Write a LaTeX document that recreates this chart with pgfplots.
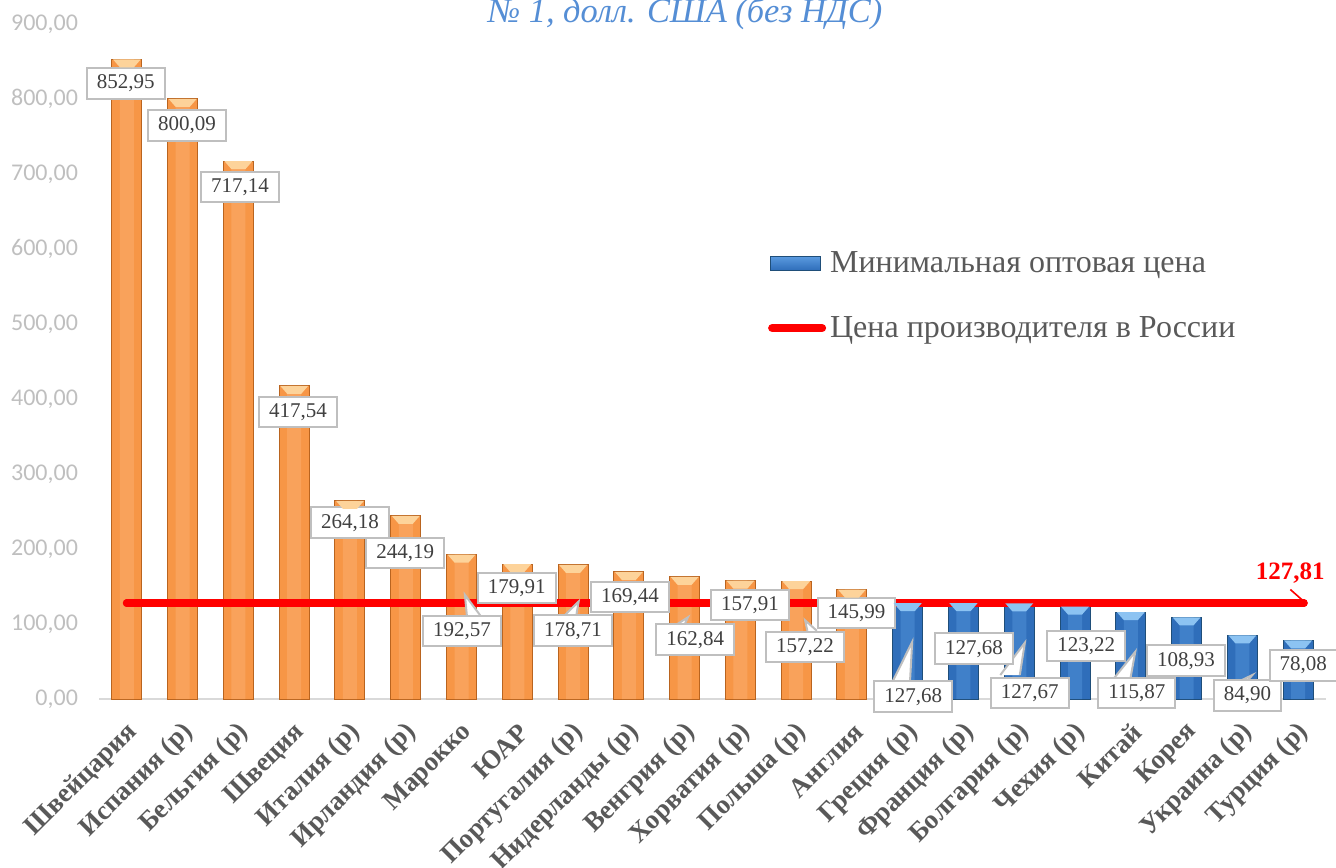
\documentclass[border=0pt]{standalone}
\usepackage{fontspec}
\setmainfont{Liberation Serif}
\newfontfamily\carlito{Carlito}
\usepackage{pgfplots}
\pgfplotsset{compat=1.18}

\definecolor{ttl}{HTML}{558ED5}
\definecolor{txt}{HTML}{595959}
\definecolor{lbltxt}{HTML}{404040}
\definecolor{lblbrd}{HTML}{BFBFBF}
\definecolor{ytk}{HTML}{BFBFBF}
\definecolor{axl}{HTML}{D9D9D9}
\definecolor{orMain}{HTML}{F79646}
\definecolor{orDark}{HTML}{B9641F}
\definecolor{orLight}{HTML}{FCB276}
\definecolor{orTop}{HTML}{FDD39A}
\definecolor{blMain}{HTML}{2F6EBA}
\definecolor{blDark}{HTML}{1F4E79}
\definecolor{blLight}{HTML}{5B9BE0}
\definecolor{blTop}{HTML}{8CC3F2}
\definecolor{redline}{HTML}{FF0000}

\pgfdeclareplotmark{bevel}{%
  \pgfpathmoveto{\pgfpoint{-7pt}{0pt}}%
  \pgfpathlineto{\pgfpoint{7pt}{0pt}}%
  \pgfpathlineto{\pgfpoint{3.5pt}{-4pt}}%
  \pgfpathlineto{\pgfpoint{-3.5pt}{-4pt}}%
  \pgfpathclose
  \pgfusepath{fill}}

\tikzset{lbl/.style={draw=lblbrd, line width=1pt, fill=white, text=lbltxt,
  font=\fontsize{10.5}{12}\selectfont, inner xsep=5pt, minimum height=15pt},
  ptr/.style={fill=white, draw=lblbrd, line width=1pt, line join=miter}}

\begin{document}
\begin{tikzpicture}
\path[use as bounding box] (0,0) rectangle (668pt,433.5pt);
\node[text=ttl, font=\itshape\fontsize{17.2}{20}\selectfont] at (342.5pt,426.5pt) {№ 1, долл. США (без НДС)};
\begin{axis}[
    at={(49.5pt,84pt)}, anchor=south west,
    scale only axis,
    width=613.5pt, height=337.5pt,
    xmin=-0.5, xmax=21.5,
    ymin=0, ymax=900,
    clip=false,
    axis lines*=left,
    x axis line style={draw=axl, line width=1pt},
    y axis line style={draw=none},
    major tick length=0pt,
    xtick={0,...,21},
    xticklabels={Швейцария, {Испания (р)}, {Бельгия (р)}, Швеция, {Италия (р)},
      {Ирландия (р)}, Марокко, ЮАР, {Португалия (р)}, {Нидерланды (р)},
      {Венгрия (р)}, {Хорватия (р)}, {Польша (р)}, Англия, {Греция (р)},
      {Франция (р)}, {Болгария (р)}, {Чехия (р)}, Китай, Корея,
      {Украина (р)}, {Турция (р)}},
    xticklabel style={rotate=45, anchor=east, text=txt,
      font=\bfseries\fontsize{13.5}{13.5}\selectfont, xshift=-4.6pt, yshift=-12.6pt},
    ytick={0,100,...,900},
    yticklabel style={text=ytk, font=\carlito\fontsize{12}{12}\selectfont,
      xshift=-7pt,
      /pgf/number format/fixed, /pgf/number format/fixed zerofill,
      /pgf/number format/precision=2, /pgf/number format/use comma,
      /pgf/number format/1000 sep={}, /pgf/number format/assume math mode=true},
    legend style={at={(rel axis cs:0.545,0.670)}, anchor=north west,
      draw=none, fill=none, text=txt, font=\fontsize{16}{18}\selectfont,
      row sep=16.5pt, inner sep=0pt},
    legend cell align=left,
]
% orange bars (no legend entry)
\addplot[ybar, bar width=15pt, bar shift=0pt, draw=orDark, line width=0.5pt,
    fill=orMain, forget plot]
  coordinates {(0,852.95) (1,800.09) (2,717.14) (3,417.54) (4,264.18) (5,244.19)
    (6,192.57) (7,179.91) (8,178.71) (9,169.44) (10,162.84) (11,157.91)
    (12,157.22) (13,145.99)};
\addplot[ybar, bar width=7pt, bar shift=0pt, draw=none, fill=orLight,
    fill opacity=0.45, forget plot]
  coordinates {(0,852.95) (1,800.09) (2,717.14) (3,417.54) (4,264.18) (5,244.19)
    (6,192.57) (7,179.91) (8,178.71) (9,169.44) (10,162.84) (11,157.91)
    (12,157.22) (13,145.99)};
\addplot[only marks, mark=bevel, mark options={fill=orTop}, forget plot]
  coordinates {(0,852.95) (1,800.09) (2,717.14) (3,417.54) (4,264.18) (5,244.19)
    (6,192.57) (7,179.91) (8,178.71) (9,169.44) (10,162.84) (11,157.91)
    (12,157.22) (13,145.99)};
% blue bars
\addplot[ybar, bar width=15pt, bar shift=0pt, draw=blDark, line width=0.5pt,
    fill=blMain,
    legend image code/.code={\draw[draw=blDark, top color=blLight, bottom color=blMain]
      (0pt,-3.5pt) rectangle (25pt,3.5pt);}]
  coordinates {(14,127.68) (15,127.68) (16,127.67) (17,123.22) (18,115.87)
    (19,108.93) (20,84.90) (21,78.08)};
\addlegendentry{Минимальная оптовая цена}
% producer price line
\addplot[redline, line width=4pt, line cap=round, mark=none,
    legend image code/.code={\draw[redline, line width=4pt, line cap=round]
      (1pt,0pt) -- (26pt,0pt);}]
  coordinates {(0,127.81) (21.1,127.81)};
\addlegendentry{Цена производителя в России}
\addplot[ybar, bar width=7pt, bar shift=0pt, draw=none, fill=blLight,
    fill opacity=0.4, forget plot]
  coordinates {(14,127.68) (15,127.68) (16,127.67) (17,123.22) (18,115.87)
    (19,108.93) (20,84.90) (21,78.08)};
\addplot[only marks, mark=bevel, mark options={fill=blTop}, forget plot]
  coordinates {(14,127.68) (15,127.68) (16,127.67) (17,123.22) (18,115.87)
    (19,108.93) (20,84.90) (21,78.08)};
\addplot[redline, line width=4pt, line cap=round, mark=none, forget plot]
  coordinates {(0,127.81) (21.1,127.81)};

\node[text=redline, font=\bfseries\fontsize{12.5}{14}\selectfont] at (axis cs:20.86,168) {127,81};
\draw[redline, line width=0.8pt] (axis cs:20.86,146) -- (axis cs:21.12,129);

% callout pointers of the lower labels
\draw[ptr] (axis cs:6.10,108) -- (axis cs:6.06,139) -- (axis cs:6.37,108);
\draw[ptr] (axis cs:7.80,108) -- (axis cs:8.10,130) -- (axis cs:8.05,108);
\draw[ptr] (axis cs:9.83,98) -- (axis cs:10.06,109) -- (axis cs:9.99,98);
\draw[ptr] (axis cs:12.20,91) -- (axis cs:12.16,105) -- (axis cs:12.37,91);
\draw[ptr] (axis cs:13.72,22) -- (axis cs:14.08,76) -- (axis cs:14.04,22);
\draw[ptr] (axis cs:15.66,32) -- (axis cs:16.10,75) -- (axis cs:16.01,32);
\draw[ptr] (axis cs:17.68,26) -- (axis cs:18.08,63) -- (axis cs:17.99,26);
\draw[ptr] (axis cs:19.87,21) -- (axis cs:20.18,32) -- (axis cs:20.05,21);

% data labels
\node[lbl] at (axis cs:-0.02,821) {852,95};
\node[lbl] at (axis cs:1.08,765) {800,09};
\node[lbl] at (axis cs:2.03,683) {717,14};
\node[lbl] at (axis cs:3.07,383) {417,54};
\node[lbl] at (axis cs:4.0,235) {264,18};
\node[lbl] at (axis cs:4.99,195) {244,19};
\node[lbl] at (axis cs:6.01,91) {192,57};
\node[lbl] at (axis cs:6.99,148) {179,91};
\node[lbl] at (axis cs:8.0,91) {178,71};
\node[lbl] at (axis cs:9.02,136) {169,44};
\node[lbl] at (axis cs:10.19,79) {162,84};
\node[lbl] at (axis cs:11.17,125) {157,91};
\node[lbl] at (axis cs:12.16,69) {157,22};
\node[lbl] at (axis cs:13.08,115) {145,99};
\node[lbl] at (axis cs:14.1,3) {127,68};
\node[lbl] at (axis cs:15.19,67) {127,68};
\node[lbl] at (axis cs:16.19,8) {127,67};
\node[lbl] at (axis cs:17.2,71) {123,22};
\node[lbl] at (axis cs:18.11,8) {115,87};
\node[lbl] at (axis cs:18.99,51) {108,93};
\node[lbl] at (axis cs:20.09,5) {84,90};
\node[lbl] at (axis cs:21.09,45) {78,08};
\end{axis}
\end{tikzpicture}
\end{document}
